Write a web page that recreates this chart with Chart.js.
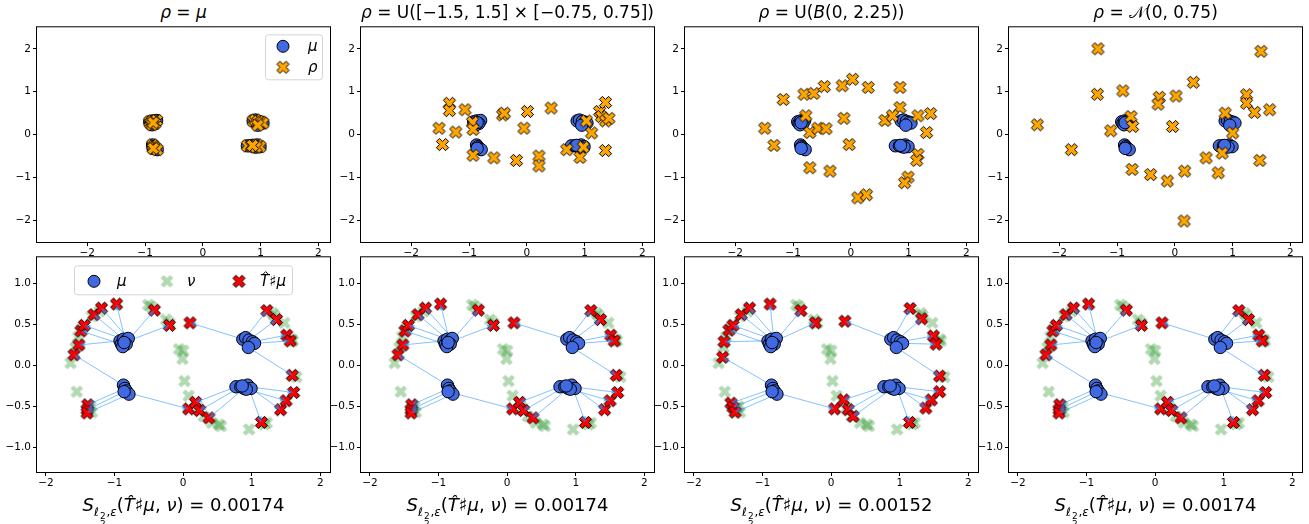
<!DOCTYPE html>
<html>
<head>
<meta charset="utf-8">
<script src="https://cdn.jsdelivr.net/npm/chart.js@4.4.1/dist/chart.umd.min.js"></script>
<style>
  body { margin: 0; width: 1309px; height: 524px; background: #fff; position: relative; overflow: hidden; font-family: "DejaVu Sans", sans-serif; color: #000; }
  .panel { position: absolute; }
  .title, .xlabel { position: absolute; text-align: center; white-space: nowrap; }
  .title { font-size: 17px; height: 24px; line-height: 24px; }
  .xlabel { font-size: 18px; height: 22px; line-height: 22px; }
  .sub { font-size: 0.66em; position: relative; top: 0.45em; }
  .stk { display: inline-flex; flex-direction: column; font-size: 0.75em; line-height: 0.9; vertical-align: -0.35em; margin: 0 1px; }
</style>
</head>
<body>
<script>
// --- data ---
const topXRange = [-2.87, 2.2], topYRange = [-2.5, 2.5];
const botXRange = [-2.13, 2.14], botYRange = [-1.3, 1.32];
const topXTicks = [-2, -1, 0, 1, 2], topYTicks = [-2, -1, 0, 1, 2];
const botXTicks = [-2, -1, 0, 1, 2], botYTicks = [-1, -0.5, 0, 0.5, 1];

// source measure, 4 small clusters (UL, LL, UR, LR)
const mu = [
  [-0.92, 0.30], [-0.90, 0.26], [-0.87, 0.32], [-0.84, 0.30], [-0.80, 0.33], [-0.83, 0.26], [-0.88, 0.23], [-0.86, 0.28],
  [-0.87, -0.24], [-0.85, -0.28], [-0.83, -0.31], [-0.79, -0.35], [-0.86, -0.32],
  [0.87, 0.32], [0.91, 0.34], [0.96, 0.31], [1.01, 0.29], [1.04, 0.27], [0.95, 0.22],
  [0.77, -0.26], [0.84, -0.26], [0.89, -0.28], [0.94, -0.24], [0.99, -0.28], [0.92, -0.29], [0.86, -0.25]
];

// reference samples rho, one per top panel
const rho1 = mu; // rho = mu
const rho2 = [
  [-1.34, 0.73], [-1.34, 0.56], [-1.07, 0.58], [-1.52, 0.15], [-1.23, 0.06], [-1.46, -0.23], [-0.94, 0.29], [-0.93, 0.12],
  [-0.93, -0.48], [-0.57, -0.54], [-0.42, 0.46], [-0.39, 0.50], [0.01, 0.54], [-0.05, 0.15], [-0.18, -0.60], [0.21, -0.50],
  [0.21, -0.73], [0.42, 0.62], [0.69, -0.35], [0.92, -0.53], [0.98, -0.29], [1.03, 0.32], [1.12, 0.04], [1.26, 0.54],
  [1.29, 0.42], [1.36, 0.75], [1.36, 0.32], [1.42, 0.38], [1.36, -0.37]
];
const rho3 = [
  [-1.17, 0.82], [-0.81, 0.94], [-0.64, 0.96], [-0.46, 1.12], [-0.15, 1.14], [0.03, 1.29], [0.30, 1.10], [0.85, 1.10],
  [0.85, 0.63], [-1.49, 0.15], [-1.33, -0.25], [-0.78, 0.44], [-0.71, 0.05], [-0.57, 0.15], [-0.43, 0.14], [-0.12, 0.38],
  [-0.03, -0.23], [-0.71, -0.77], [-0.36, -0.85], [0.12, -1.47], [0.27, -1.40], [0.59, 0.33], [0.72, 0.44], [1.16, 0.44],
  [1.38, 0.49], [1.31, 0.05], [1.16, -0.46], [1.14, -0.60], [0.99, -0.99], [0.93, -1.12]
];
const rho4 = [
  [-1.33, 2.00], [-1.34, 0.94], [-0.90, 1.02], [-2.38, 0.23], [-1.79, -0.35], [-1.11, 0.09], [-0.76, 0.42], [-0.73, 0.19],
  [-0.74, -0.81], [-0.42, -0.93], [-0.13, -1.08], [-0.27, 0.87], [-0.29, 0.71], [0.02, 0.90], [-0.04, 0.19], [0.32, 1.22],
  [0.17, -0.85], [0.16, -2.01], [0.54, -0.54], [0.75, -0.89], [0.82, -0.43], [0.87, 0.50], [1.00, 0.04], [1.24, 0.93],
  [1.24, 0.73], [1.38, 0.52], [1.49, 1.94], [1.64, 0.58], [1.47, -0.60]
];

// target measure nu (same in every bottom panel)
const nu = [
  [-1.64, 0.03], [-1.55, -0.32], [-1.57, 0.22], [-1.53, 0.35], [-1.47, 0.45], [-1.33, 0.60], [-1.22, 0.66], [-0.51, 0.74],
  [-0.47, 0.72], [-0.25, 0.56], [-0.20, 0.52], [-0.06, 0.20], [0.00, 0.18], [-0.01, 0.08], [0.02, -0.19], [0.08, -0.37],
  [0.22, -0.52], [0.30, -0.62], [0.42, -0.70], [0.55, -0.74], [0.52, -0.72], [0.96, -0.78], [1.18, -0.72], [1.22, -0.70],
  [1.30, 0.64], [1.33, 0.61], [1.475, 0.52], [1.58, 0.32], [1.60, 0.30], [1.65, -0.14], [-1.33, -0.57], [-1.38, -0.52],
  [-1.35, -0.50]
];

// pushforward T#mu, same order as mu
const push1 = [
  [-1.52, 0.25], [-1.49, 0.42], [-1.44, 0.49], [-1.30, 0.62], [-1.19, 0.70], [-0.97, 0.75], [-0.42, 0.675], [-0.20, 0.49],
  [-1.59, 0.13], [-1.39, -0.48], [-1.40, -0.54], [-1.40, -0.58], [0.08, -0.53],
  [0.10, 0.52], [1.22, 0.67], [1.36, 0.56], [1.51, 0.37], [1.56, 0.30], [1.59, -0.12],
  [0.18, -0.45], [0.24, -0.55], [0.375, -0.64], [1.14, -0.695], [1.42, -0.54], [1.50, -0.43], [1.61, -0.33]
];
const push3 = [
  [-1.56, 0.29], [-1.49, 0.43], [-1.43, 0.49], [-1.31, 0.62], [-1.19, 0.70], [-0.89, 0.75], [-0.44, 0.67], [-0.23, 0.52],
  [-1.58, 0.10], [-1.46, -0.46], [-1.43, -0.51], [-1.40, -0.57], [0.05, -0.53],
  [0.20, 0.54], [1.15, 0.695], [1.32, 0.57], [1.49, 0.36], [1.53, 0.26], [1.58, -0.13],
  [0.18, -0.42], [0.25, -0.54], [0.32, -0.62], [1.14, -0.695], [1.38, -0.52], [1.46, -0.42], [1.58, -0.32]
];

const rhos = [rho1, rho2, rho3, rho4];
const pushes = [push1, push1, push3, push1];
const costs = ['0.00174', '0.00174', '0.00152', '0.00174'];
const titles = [
  '<i>ρ</i> = <i>μ</i>',
  '<i>ρ</i> = U([−1.5, 1.5] × [−0.75, 0.75])',
  '<i>ρ</i> = U(<i>B</i>(0, 2.25))',
  '<i>ρ</i> = 𝒩(0, 0.75)'
];

// --- layout ---
const colLeft = [37, 361, 685, 1009];
const rowTop = [25, 255];
const areaW = 293, areaH = 217;
const yAxisW = 40, xAxisH = 22, padTop = 6, padRight = 8;

const ROYAL = '#4169e1', ORANGE = '#ffa500', RED = '#ff0000';

Chart.defaults.font.family = '"DejaVu Sans", sans-serif';
Chart.defaults.color = '#000';
Chart.defaults.animation = false;

// filled "X" marker like matplotlib's
function xMarker(m, fill, stroke) {
  const sz = Math.ceil(0.95 * m + 4);
  const c = document.createElement('canvas');
  c.width = c.height = sz;
  const g = c.getContext('2d');
  const pts = [[-1, -3], [1, -3], [1, -1], [3, -1], [3, 1], [1, 1], [1, 3], [-1, 3], [-1, 1], [-3, 1], [-3, -1], [-1, -1]];
  g.translate(sz / 2, sz / 2);
  g.beginPath();
  pts.forEach(([a, b], i) => {
    const x = (a - b) / Math.SQRT2 * m / 6, y = (a + b) / Math.SQRT2 * m / 6;
    i ? g.lineTo(x, y) : g.moveTo(x, y);
  });
  g.closePath();
  g.fillStyle = fill;
  g.fill();
  if (stroke) { g.lineWidth = 1; g.strokeStyle = stroke; g.stroke(); }
  return c;
}
const orangeX = xMarker(13, ORANGE, '#000');
const redX = xMarker(13, RED, '#000');
const greenX = xMarker(13.5, 'rgba(0,128,0,0.3)', null);

const toXY = arr => arr.map(p => ({ x: p[0], y: p[1] }));
const fmtMinus = s => s.replace('-', '\u2212');

function axes(xr, yr, xt, yt, xFmt, yFmt) {
  const grid = { drawOnChartArea: false, drawTicks: true, tickLength: 4, color: '#000', lineWidth: 1 };
  return {
    x: {
      type: 'linear', min: xr[0], max: xr[1],
      afterBuildTicks: s => { s.ticks = xt.map(v => ({ value: v })); },
      afterFit: s => { s.height = xAxisH; },
      grid, border: { display: false },
      ticks: { font: { size: 10.5 }, color: '#000', padding: 1, maxRotation: 0, autoSkip: false, callback: v => xFmt(v) }
    },
    y: {
      type: 'linear', min: yr[0], max: yr[1],
      afterBuildTicks: s => { s.ticks = yt.map(v => ({ value: v })); },
      afterFit: s => { s.width = yAxisW; },
      grid, border: { display: false },
      ticks: { font: { size: 10.5 }, color: '#000', padding: 2, autoSkip: false, callback: v => yFmt(v) }
    }
  };
}

// black box round the plot area
const framePlugin = {
  id: 'frame',
  afterDatasetsDraw(chart) {
    const a = chart.chartArea, ctx = chart.ctx;
    ctx.save();
    ctx.strokeStyle = '#000';
    ctx.lineWidth = 1;
    ctx.strokeRect(a.left - 0.5, a.top - 0.5, a.right - a.left + 1, a.bottom - a.top + 1);
    ctx.restore();
  }
};

// arrows from mu to T#mu, drawn just before the mu dataset
const arrowPlugin = {
  id: 'arrows',
  beforeDatasetDraw(chart, args) {
    const ds = chart.data.datasets[args.index];
    if (!ds.arrowsTo) return;
    const xs = chart.scales.x, ys = chart.scales.y, ctx = chart.ctx, a = chart.chartArea;
    ctx.save();
    ctx.beginPath();
    ctx.rect(a.left, a.top, a.right - a.left, a.bottom - a.top);
    ctx.clip();
    ds.data.forEach((p, i) => {
      const q = ds.arrowsTo[i];
      const x0 = xs.getPixelForValue(p.x), y0 = ys.getPixelForValue(p.y);
      const x1 = xs.getPixelForValue(q[0]), y1 = ys.getPixelForValue(q[1]);
      const ang = Math.atan2(y1 - y0, x1 - x0), hl = 6, hw = 2.6;
      const bx = x1 - Math.cos(ang) * hl, by = y1 - Math.sin(ang) * hl;
      ctx.strokeStyle = 'rgba(30,144,255,0.55)';
      ctx.lineWidth = 1;
      ctx.beginPath();
      ctx.moveTo(x0, y0);
      ctx.lineTo(bx, by);
      ctx.stroke();
      ctx.fillStyle = 'rgba(30,144,255,0.6)';
      ctx.beginPath();
      ctx.moveTo(x1, y1);
      ctx.lineTo(bx - Math.sin(ang) * hw, by + Math.cos(ang) * hw);
      ctx.lineTo(bx + Math.sin(ang) * hw, by - Math.cos(ang) * hw);
      ctx.closePath();
      ctx.fill();
    });
    ctx.restore();
  }
};

function drawSegs(ctx, segs, x, y, size) {
  ctx.fillStyle = '#000';
  ctx.textBaseline = 'alphabetic';
  segs.forEach(s => {
    ctx.font = (s.it ? 'italic ' : '') + size + 'px "DejaVu Sans"';
    ctx.fillText(s.t, x, y);
    const w = ctx.measureText(s.t).width;
    if (s.hat) {
      const cx = x + w * 0.62, ty = y - size * 0.78;
      ctx.beginPath();
      ctx.moveTo(cx - 3, ty);
      ctx.lineTo(cx, ty - 3);
      ctx.lineTo(cx + 3, ty);
      ctx.lineWidth = 1;
      ctx.strokeStyle = '#000';
      ctx.stroke();
    }
    x += w;
  });
}

// matplotlib-like legend box inside the axes
function boxLegend(box, items) {
  return {
    id: 'boxLegend',
    afterDraw(chart) {
      const ctx = chart.ctx, a = chart.chartArea;
      ctx.save();
      ctx.beginPath();
      ctx.roundRect(a.left + box.x + 0.5, a.top + box.y + 0.5, box.w, box.h, 3);
      ctx.fillStyle = 'rgba(255,255,255,0.8)';
      ctx.fill();
      ctx.strokeStyle = '#d4d4d4';
      ctx.lineWidth = 1;
      ctx.stroke();
      items.forEach(it => {
        const mx = a.left + it.mx, my = a.top + it.my;
        if (it.marker === 'circle') {
          ctx.beginPath();
          ctx.arc(mx, my, 6, 0, Math.PI * 2);
          ctx.fillStyle = ROYAL;
          ctx.fill();
          ctx.strokeStyle = '#000';
          ctx.lineWidth = 1;
          ctx.stroke();
        } else {
          ctx.drawImage(it.marker, mx - it.marker.width / 2, my - it.marker.height / 2);
        }
        drawSegs(ctx, it.segs, a.left + it.tx, my + 5, 15);
      });
      ctx.restore();
    }
  };
}

function placeDiv(cls, left, top, width, html) {
  const d = document.createElement('div');
  d.className = cls;
  d.style.left = left + 'px';
  d.style.top = top + 'px';
  d.style.width = width + 'px';
  if (html) d.innerHTML = html;
  document.body.appendChild(d);
  return d;
}

function makeChart(left, top, config) {
  const d = placeDiv('panel', left - yAxisW, top - padTop, yAxisW + areaW + padRight);
  d.style.height = (padTop + areaH + xAxisH) + 'px';
  const c = document.createElement('canvas');
  d.appendChild(c);
  config.options.responsive = true;
  config.options.maintainAspectRatio = false;
  config.options.events = [];
  config.options.layout = { padding: { top: padTop, right: padRight, left: 0, bottom: 0 } };
  config.options.plugins = { legend: { display: false }, tooltip: { enabled: false } };
  return new Chart(c, config);
}

const intFmt = v => fmtMinus(String(v));
const decFmt = v => fmtMinus(v.toFixed(1));

for (let i = 0; i < 4; i++) {
  const L = colLeft[i];
  // top row: mu and rho
  placeDiv('title', L - 30, 0, areaW + 60, titles[i]);
  const topPlugins = [framePlugin];
  if (i === 0) {
    topPlugins.push(boxLegend({ x: 228, y: 7, w: 57, h: 45 }, [
      { marker: 'circle', mx: 246, my: 19, tx: 271, segs: [{ t: 'μ', it: true }] },
      { marker: orangeX, mx: 246, my: 40, tx: 271, segs: [{ t: 'ρ', it: true }] }
    ]));
  }
  makeChart(L, rowTop[0], {
    type: 'scatter',
    data: {
      datasets: [
        { label: 'μ', data: toXY(mu), pointStyle: 'circle', radius: 6.2, backgroundColor: ROYAL, borderColor: '#000', borderWidth: 1, order: 1 },
        { label: 'ρ', data: toXY(rhos[i]), pointStyle: orangeX, radius: 6, order: 0 }
      ]
    },
    options: { scales: axes(topXRange, topYRange, topXTicks, topYTicks, intFmt, intFmt) },
    plugins: topPlugins
  });

  // bottom row: mu, nu and the pushforward with arrows
  const botPlugins = [arrowPlugin, framePlugin];
  if (i === 0) {
    botPlugins.push(boxLegend({ x: 37, y: 8, w: 218, h: 29 }, [
      { marker: 'circle', mx: 57, my: 24, tx: 80, segs: [{ t: 'μ', it: true }] },
      { marker: greenX, mx: 130, my: 24, tx: 150, segs: [{ t: 'ν', it: true }] },
      { marker: redX, mx: 202, my: 24, tx: 223, segs: [{ t: 'T', it: true, hat: true }, { t: '♯' }, { t: 'μ', it: true }] }
    ]));
  }
  makeChart(L, rowTop[1], {
    type: 'scatter',
    data: {
      datasets: [
        { label: 'μ', data: toXY(mu), arrowsTo: pushes[i], pointStyle: 'circle', radius: 6.2, backgroundColor: ROYAL, borderColor: '#000', borderWidth: 1, order: 0 },
        { label: 'ν', data: toXY(nu), pointStyle: greenX, radius: 6, order: 2 },
        { label: 'T̂♯μ', data: toXY(pushes[i]), pointStyle: redX, radius: 6, order: 1 }
      ]
    },
    options: { scales: axes(botXRange, botYRange, botXTicks, botYTicks, intFmt, decFmt) },
    plugins: botPlugins
  });

  placeDiv('xlabel', L - 30, 494, areaW + 60,
    '<i>S</i><span class="sub"><i>ℓ</i><span class="stk"><span>2</span><span>2</span></span>,<i>ε</i></span>(<i>T̂</i>♯<i>μ</i>, <i>ν</i>) = ' + costs[i]);
}
</script>
</body>
</html>
